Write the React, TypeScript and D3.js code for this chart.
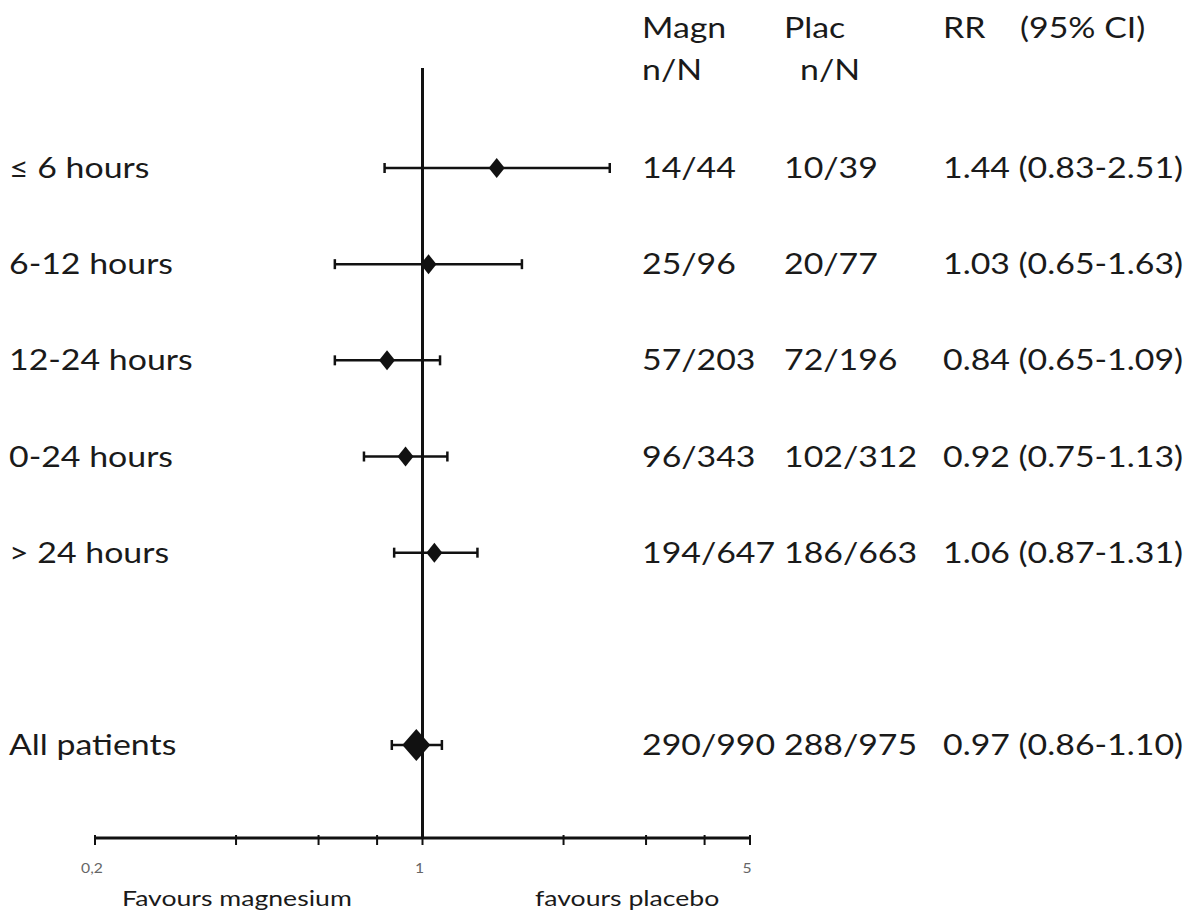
import * as d3 from 'd3';
import React from 'react';

// subgroups, top to bottom
const labels = ['≤ 6 hours', '6-12 hours', '12-24 hours', '0-24 hours', '> 24 hours', 'All patients'];
const rowIndex = [0, 1, 2, 3, 4, 6];
const rr = [1.44, 1.03, 0.84, 0.92, 1.06, 0.97];
const lower = [0.83, 0.65, 0.65, 0.75, 0.87, 0.86];
const upper = [2.51, 1.63, 1.09, 1.13, 1.31, 1.10];
const magn = ['14/44', '25/96', '57/203', '96/343', '194/647', '290/990'];
const plac = ['10/39', '20/77', '72/196', '102/312', '186/663', '288/975'];
const isTotal = [false, false, false, false, false, true];

const tickValues = [0.2, 0.4, 0.6, 0.8, 1, 2, 3, 4, 5];
const tickLabels: Record<number, string> = { 0.2: '0,2', 1: '1', 5: '5' };

const font = 'Lato, "Open Sans", sans-serif';
const stretch = 1.21; // the scanned figure is wider than the font

function T({ x, y, size = 28, fill = '#1a1a1a', anchor = 'start', children }: any) {
  return (
    <text
      transform={`translate(${x},${y}) scale(${stretch},1)`}
      textAnchor={anchor}
      style={{ fontFamily: font, fontSize: size, fill }}
    >
      {children}
    </text>
  );
}

export default function App() {
  const width = 1200;
  const height = 918;
  const axisY = 838;

  const x = d3.scaleLog().domain([0.2, 5]).range([95, 750]);
  const y = d3.scaleLinear().domain([0, 6]).range([168, 745]);

  const fmt = d3.format('.2f');

  const diamond = (cx: number, cy: number, hw: number, hh: number) => {
    const p = d3.path();
    p.moveTo(cx, cy - hh);
    p.lineTo(cx + hw, cy);
    p.lineTo(cx, cy + hh);
    p.lineTo(cx - hw, cy);
    p.closePath();
    return p.toString();
  };

  return (
    <svg width={width} height={height} style={{ position: 'absolute', left: 0, top: 0, background: 'white' }}>
      {/* column headers */}
      <T x={642} y={38}>Magn</T>
      <T x={642} y={80}>n/N</T>
      <T x={784} y={38}>Plac</T>
      <T x={800} y={80}>n/N</T>
      <T x={943} y={38}>RR</T>
      <T x={1020} y={38}>(95% CI)</T>

      {/* line of no effect */}
      <line x1={x(1)} x2={x(1)} y1={68} y2={axisY} stroke="#111" strokeWidth={3} />

      {/* rows */}
      {labels.map((lab, i) => {
        const cy = y(rowIndex[i]);
        const hw = isTotal[i] ? 14 : 8;
        const hh = isTotal[i] ? 16 : 10;
        return (
          <g key={lab}>
            <T x={9} y={cy + 10}>{lab}</T>
            <line x1={x(lower[i])} x2={x(upper[i])} y1={cy} y2={cy} stroke="#111" strokeWidth={2.5} />
            <line x1={x(lower[i])} x2={x(lower[i])} y1={cy - 5} y2={cy + 5} stroke="#111" strokeWidth={2.5} />
            <line x1={x(upper[i])} x2={x(upper[i])} y1={cy - 5} y2={cy + 5} stroke="#111" strokeWidth={2.5} />
            <path d={diamond(x(rr[i]), cy, hw, hh)} fill="#111" />
            <T x={642} y={cy + 10}>{magn[i]}</T>
            <T x={784} y={cy + 10}>{plac[i]}</T>
            <T x={943} y={cy + 10}>{`${fmt(rr[i])} (${fmt(lower[i])}-${fmt(upper[i])})`}</T>
          </g>
        );
      })}

      {/* x axis */}
      <line x1={x(0.2)} x2={x(5)} y1={axisY} y2={axisY} stroke="#111" strokeWidth={3} />
      {tickValues.map((t) => (
        <g key={t}>
          <line x1={x(t)} x2={x(t)} y1={axisY - 3} y2={axisY + 7} stroke="#111" strokeWidth={2} />
          {tickLabels[t] && (
            <T x={x(t) - 3} y={axisY + 35} size={13} fill="#666" anchor="middle">
              {tickLabels[t]}
            </T>
          )}
        </g>
      ))}
      <T x={122} y={906} size={22}>Favours magnesium</T>
      <T x={535} y={906} size={22}>favours placebo</T>
    </svg>
  );
}
